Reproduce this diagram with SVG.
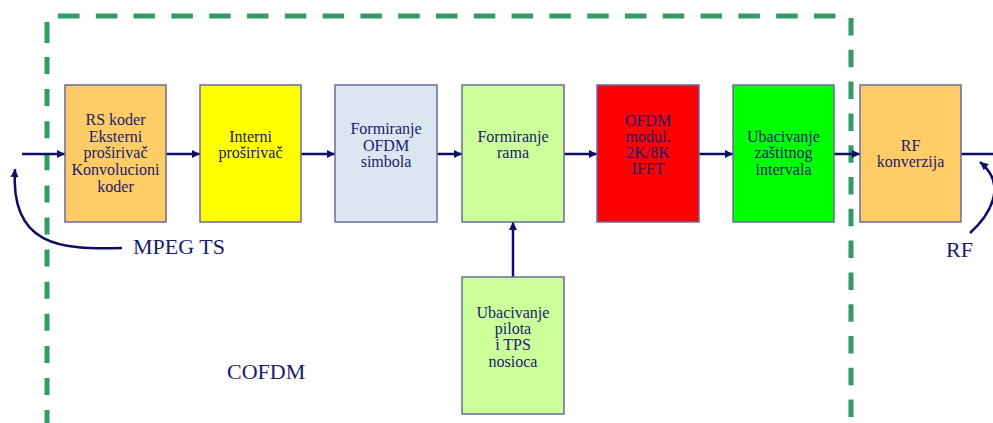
<svg xmlns="http://www.w3.org/2000/svg" width="993" height="423" viewBox="0 0 993 423">
<style>
.box{stroke:#6b6b9e;stroke-width:1.5}
.t{font-family:"Liberation Serif","Times New Roman",serif;font-size:16px;fill:#1a1a6e;text-anchor:middle}
.lbl{font-family:"Liberation Serif","Times New Roman",serif;font-size:22px;fill:#1a1a6e}
.c{stroke:#0d0d66;stroke-width:2.5;fill:none}
.d{stroke:#339a62;stroke-width:5;fill:none}
</style>
<defs>
<marker id="ah" viewBox="0 0 10 10" refX="10" refY="5" markerWidth="9" markerHeight="8" markerUnits="userSpaceOnUse" orient="auto">
<path d="M0 0 L10 5 L0 10 Z" fill="#0d0d66"/>
</marker>
</defs>
<g id="cofdm-border">
<line class="d" x1="58" y1="16" x2="838" y2="16" stroke-dasharray="21.5 16.3"/>
<line class="d" x1="47" y1="22" x2="47" y2="43"/>
<line class="d" x1="47" y1="57" x2="47" y2="423" stroke-dasharray="17 15.1"/>
<line class="d" x1="851" y1="18" x2="851" y2="423" stroke-dasharray="17.5 14.3"/>
</g>
<g id="connectors">
<line class="c" x1="22" y1="154" x2="65" y2="154" marker-end="url(#ah)"/>
<line class="c" x1="166" y1="154" x2="200" y2="154" marker-end="url(#ah)"/>
<line class="c" x1="301" y1="154" x2="335" y2="154" marker-end="url(#ah)"/>
<line class="c" x1="437" y1="154" x2="462" y2="154" marker-end="url(#ah)"/>
<line class="c" x1="564" y1="154" x2="597" y2="154" marker-end="url(#ah)"/>
<line class="c" x1="699" y1="154" x2="733" y2="154" marker-end="url(#ah)"/>
<line class="c" x1="834" y1="154" x2="860" y2="154" marker-end="url(#ah)"/>
<line class="c" x1="961" y1="154" x2="993" y2="154"/>
<line class="c" x1="513" y1="277" x2="513" y2="222" marker-end="url(#ah)"/>
<path class="c" d="M122 248 C60 250 10 246 15 169" marker-end="url(#ah)"/>
<path class="c" d="M970 233 C990 215 1008 185 980 162" marker-end="url(#ah)"/>
</g>
<g id="rs-koder">
<rect class="box" x="65" y="85" width="101" height="137" fill="#ffcc66"/>
<text class="t" x="115.5" y="125">RS koder</text>
<text class="t" x="115.5" y="142">Eksterni</text>
<text class="t" x="115.5" y="158">proširivač</text>
<text class="t" x="115.5" y="175">Konvolucioni</text>
<text class="t" x="115.5" y="192">koder</text>
</g>
<g id="interni">
<rect class="box" x="200" y="85" width="101" height="137" fill="#ffff00"/>
<text class="t" x="250.5" y="142">Interni</text>
<text class="t" x="250.5" y="158">proširivač</text>
</g>
<g id="ofdm-simbola">
<rect class="box" x="335" y="85" width="102" height="137" fill="#dce6f2"/>
<text class="t" x="386" y="134">Formiranje</text>
<text class="t" x="386" y="151">OFDM</text>
<text class="t" x="386" y="167">simbola</text>
</g>
<g id="rama">
<rect class="box" x="462" y="85" width="102" height="137" fill="#ccff99"/>
<text class="t" x="513" y="142">Formiranje</text>
<text class="t" x="513" y="158">rama</text>
</g>
<g id="ofdm-modul">
<rect class="box" x="597" y="85" width="102" height="137" fill="#ff0000"/>
<text class="t" x="648" y="126">OFDM</text>
<text class="t" x="648" y="142">modul.</text>
<text class="t" x="648" y="158">2K/8K</text>
<text class="t" x="648" y="174">IFFT</text>
</g>
<g id="zastitni">
<rect class="box" x="733" y="85" width="101" height="137" fill="#00ff00"/>
<text class="t" x="783.5" y="142">Ubacivanje</text>
<text class="t" x="783.5" y="158">zaštitnog</text>
<text class="t" x="783.5" y="175">intervala</text>
</g>
<g id="rf-konverzija">
<rect class="box" x="860" y="85" width="101" height="137" fill="#ffcc66"/>
<text class="t" x="910.5" y="151">RF</text>
<text class="t" x="910.5" y="167">konverzija</text>
</g>
<g id="piloti">
<rect class="box" x="462" y="277" width="102" height="137" fill="#ccff99"/>
<text class="t" x="513" y="318">Ubacivanje</text>
<text class="t" x="513" y="334">pilota</text>
<text class="t" x="513" y="350">i TPS</text>
<text class="t" x="513" y="367">nosioca</text>
</g>
<g id="labels">
<text class="lbl" x="133" y="254">MPEG TS</text>
<text class="lbl" x="227" y="379">COFDM</text>
<text class="lbl" x="946" y="257">RF</text>
</g>
</svg>
